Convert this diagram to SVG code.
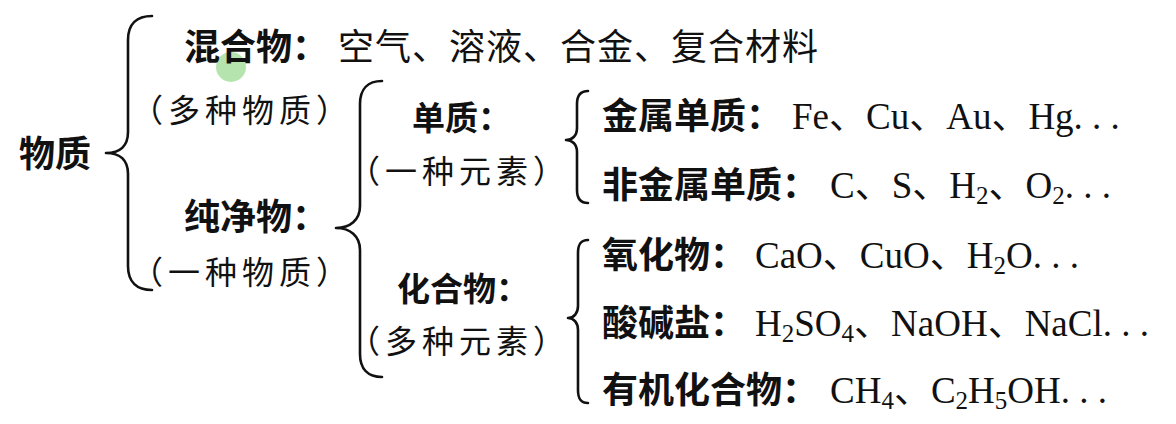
<svg xmlns="http://www.w3.org/2000/svg" width="1176" height="424" viewBox="0 0 1176 424">
<style>
.b{font-family:"Noto Sans CJK SC","Noto Sans",sans-serif;font-weight:bold;fill:#111}
.r{font-family:"Noto Sans CJK SC","Noto Sans",sans-serif;font-weight:normal;fill:#111}
.p{font-family:"Noto Sans CJK SC","Noto Sans",sans-serif;font-weight:normal;fill:#111;font-size:32px;letter-spacing:5px}
.t{font-family:"Liberation Serif","Noto Sans CJK SC",serif;font-size:37px;fill:#111}
.br{fill:none;stroke:#111;stroke-width:2.6;stroke-linecap:round;stroke-linejoin:round}
</style>
<rect width="1176" height="424" fill="#fff"/>
<circle cx="231" cy="67" r="15" fill="#9edb94" opacity="0.75"/>
<g id="connectors">
<path class="br" d="M152,16 C137,16 128,24 128,40 L128,132 C128,146 120,153 106,153 C120,153 128,160 128,174 L128,266 C128,282 137,290 152,290"/>
<path class="br" d="M382,81 C368,81 360,89 360,104 L360,206 C360,220 350,228 336,228 C350,228 360,236 360,250 L360,354 C360,369 368,377 382,377"/>
<path class="br" d="M588,91 C580,91 577,96 577,104 L577,128 C577,136 572,140 566,140 C572,140 577,144 577,152 L577,190 C577,198 580,203 588,203"/>
<path class="br" d="M588,240 C580,240 578,245 578,253 L578,306 C578,313 574,318 568,318 C574,318 578,323 578,330 L578,390 C578,398 580,403 588,403"/>
</g>
<g id="n-wuzhi"><text class="b" x="19" y="167" font-size="36">物质</text></g>
<g id="n-hunhe">
<text class="b" x="184" y="60" font-size="36">混合物：</text>
<text class="r" x="338" y="60" font-size="36" letter-spacing="1">空气、溶液、合金、复合材料</text>
<text class="p" x="131" y="122">（多种物质）</text>
</g>
<g id="n-chunjing">
<text class="b" x="184" y="230" font-size="36">纯净物：</text>
<text class="p" x="131" y="284">（一种物质）</text>
</g>
<g id="n-danzhi">
<text class="b" x="412" y="130" font-size="33">单质：</text>
<text class="p" x="348" y="183">（一种元素）</text>
</g>
<g id="n-huahe">
<text class="b" x="397" y="301" font-size="33">化合物：</text>
<text class="p" x="348" y="353">（多种元素）</text>
</g>
<g id="n-jinshu">
<text class="b" x="602" y="129" font-size="36">金属单质：</text>
<text class="t" x="792" y="129">Fe、Cu、Au、Hg. . .</text>
</g>
<g id="n-feijinshu">
<text class="b" x="602" y="198" font-size="36">非金属单质：</text>
<text class="t" x="830" y="198">C、S、H<tspan font-size="25" dy="6">2</tspan><tspan dy="-6">、O</tspan><tspan font-size="25" dy="6">2</tspan><tspan dy="-6">. . .</tspan></text>
</g>
<g id="n-yanghua">
<text class="b" x="602" y="268" font-size="36">氧化物：</text>
<text class="t" x="755" y="268">CaO、CuO、H<tspan font-size="25" dy="6">2</tspan><tspan dy="-6">O. . .</tspan></text>
</g>
<g id="n-suanjian">
<text class="b" x="602" y="336" font-size="36">酸碱盐：</text>
<text class="t" x="755" y="336">H<tspan font-size="25" dy="6">2</tspan><tspan dy="-6">SO</tspan><tspan font-size="25" dy="6">4</tspan><tspan dy="-6">、NaOH、NaCl. . .</tspan></text>
</g>
<g id="n-youji">
<text class="b" x="602" y="403" font-size="36">有机化合物：</text>
<text class="t" x="830" y="403">CH<tspan font-size="25" dy="6">4</tspan><tspan dy="-6">、C</tspan><tspan font-size="25" dy="6">2</tspan><tspan dy="-6">H</tspan><tspan font-size="25" dy="6">5</tspan><tspan dy="-6">OH. . .</tspan></text>
</g>
</svg>
